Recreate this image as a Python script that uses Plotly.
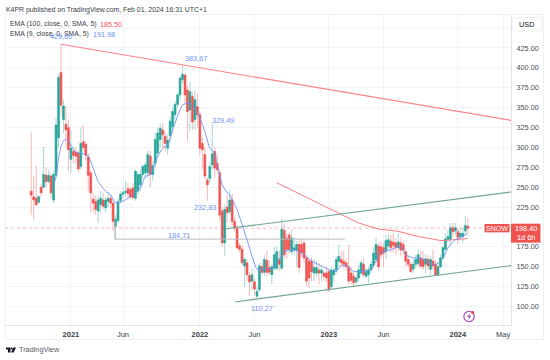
import pandas as pd
import plotly.graph_objects as go

W, H = 550, 360
L, R, T, B = 5.0, 511.5, 15.0, 325.5

# weekly candles, one row per week starting 2020-09-14
first_week = "2020-09-14"
opens = [245,238,236,231,250,250,265,257,264,234,265,312,394,335,329,325,285,295,294,293,276,307,304,288,268,235,232,220,228,234,224,232,236,230,201,208,233,241,243,248,247,249,236,245,253,266,268,268,289,266,280,293,310,322,314,299,315,326,341,354,366,385,391,372,347,364,335,351,341,305,291,259,261,278,295,280,268,220,180,225,219,234,207,198,176,172,151,155,139,132,131,113,121,150,143,158,149,140,148,148,159,148,196,186,190,169,171,171,178,178,180,161,157,157,142,142,146,142,142,142,144,125,140,146,157,159,157,155,150,142,138,131,136,142,153,138,140,146,152,159,176,175,174,169,176,182,181,180,174,180,178,169,159,153,147,153,154,161,159,153,159,147,157,153,140,150,161,172,184,184,199,195,194,188,188,195,201]
closes = [240,234,228,238,243,266,257,265,243,266,328,388,353,352,322,297,299,290,289,273,305,300,290,265,243,230,222,234,236,226,234,236,230,207,210,232,241,243,245,242,238,237,270,266,266,276,278,291,266,277,310,318,324,316,305,309,333,345,354,366,387,392,366,345,370,332,360,341,299,297,264,253,276,292,274,272,215,180,222,218,234,207,199,174,172,155,159,140,131,140,122,119,151,143,159,143,143,150,165,169,153,197,165,172,172,186,174,178,149,168,161,132,136,144,149,149,142,146,138,136,121,146,146,159,163,155,153,150,132,133,130,136,146,155,140,144,146,153,167,178,150,165,167,183,184,174,177,174,181,171,171,157,153,144,153,159,165,151,150,160,151,159,151,140,150,161,174,185,188,199,194,199,187,192,192,202,198.4]
highs = [319,265,277,240,254,301,275,272,268,270,337,392,429.6,360,352,335,322,298,300,296,325,328,308,293,272,243,240,240,245,243,238,243,240,235,215,235,245,250,258,255,250,255,272,270,272,278,282,296,296,283,318,325,330,330,320,316,338,350,358,369,390,403,393,378,382,370,372,368,345,312,300,262,282,330,300,292,272,225,228,240,245,242,212,202,180,178,162,160,143,148,135,125,155,155,165,170,158,153,175,175,170,209.5,205,192,194,197,187,182,183,186,183,165,162,162,160,158,155,150,146,150,146,150,148,163,178,170,170,160,178,150,143,140,152,158,160,148,150,158,175,186,180,182,180,190,190,190,192,186,192,186,183,172,163,156,160,165,172,170,170,166,165,163,172,158,155,165,176,192,196,205,205,205,198,200,198,214,212]
lows = [215,209,226,229,238,248,250,255,236,230,262,300,340,318,300,270,268,280,280,268,272,295,284,245,218,218,215,205,218,222,218,225,224,195,185,205,230,236,238,236,235,234,233,240,245,260,262,262,250,258,275,288,300,300,295,290,305,318,335,350,360,380,355,308,320,322,322,325,290,272,260,233,255,272,262,268,208,175,164,205,216,202,195,172,168,152,125,132,113,120,115,110.3,119,140,138,138,140,128,145,145,145,145,160,160,167,165,165,150,142,162,155,126,123,132,132,138,128,132,132,130,118,123,130,142,150,150,148,145,127,128,125,128,132,138,136,135,130,142,148,155,145,160,150,160,172,168,168,165,170,163,165,150,148,142,142,148,150,147,146,142,146,140,146,139,139,148,158,170,180,178,188,190,178,183,180,190,192]

# EMA 9 read at selected weeks (week number counted from first_week)
ema9_week = [9,10,11,12,13,14,16,18,21,23,25,27,30,32,34,36,39,44,46,48,51,53,55,57,59,61,64,66,68,70,72,74,75,77,79,80,83,87,91,94,98,102,106,110,113,116,120,123,125,127,130,133,137,139,141,145,149,151,154,157,161,163,166,168,171,174,176]
ema9_val = [251,263.5,286.5,301,308,310.8,303,293.7,292,289,274,257,245,240.5,230,231,236,249,263.6,265.7,288.7,299,303,322,339,353.5,355.6,349,337,320,299,293,278,253,243,240.5,221.7,184,147,147,149.7,169,171.5,165,157,152.7,146.4,144,151.4,151.4,144,144,147,156.8,168,171.5,175.6,165,161,161,154.7,152.6,161,173.5,184,188,192]
# EMA 100 read at selected weeks
ema100_week = [99,104,112,116,124,132,140,148,156,165,171,176]
ema100_val = [255.6,248,236,229,217.5,205,197.4,194.5,188,183,184,185.5]
ema100_last, ema9_last = "185.50", "191.98"

# drawing-tool lines: (date, price) pairs
line_dn_dates = ["2020-12-07", "2024-05-30"]
line_dn_prices = [429.6, 334]
line_up_dates = ["2022-03-14", "2024-05-30"]
line_up_prices = [197.5, 243.9]
line_lo_dates = ["2022-04-12", "2024-05-30"]
line_lo_prices = [105.8, 151.4]
hline_dates = ["2021-05-08", "2021-05-08", "2023-02-16"]
hline_prices = [207, 184.71, 184.71]
last_price = 198.40
price_dates = ["2020-07-02", "2024-05-30"]

y_ticks = [100,125,150,175,200,225,250,275,300,325,350,375,400,425,450]
x_tick_dates = ["2021-01-04","2021-05-31","2022-01-03","2022-06-06","2023-01-02","2023-06-05","2024-01-01","2024-05-08"]
x_tick_text = ["<b>2021</b>","Jun","<b>2022</b>","Jun","<b>2023</b>","Jun","<b>2024</b>","May"]

price_labels = [("429,60","2020-12-07",440),("383,67","2021-12-22",412),("329,49","2022-03-10",334),("232,83","2022-01-17",224),("184,71","2021-11-04",189),("110,27","2022-06-26",98)]

TEAL, RED = "#26a69a", "#ef5350"
FONT = "Liberation Sans"
FS = 7.3
dates = pd.date_range(first_week, periods=len(opens), freq="7D")
ws = lambda idx: [dates[i] for i in idx]
hi = [max(a, b, c) for a, b, c in zip(highs, opens, closes)]
lo = [min(a, b, c) for a, b, c in zip(lows, opens, closes)]
top = [max(a, b) for a, b in zip(opens, closes)]
bot = [min(a, b) for a, b in zip(opens, closes)]

fig = go.Figure()
fig.add_trace(go.Scatter(x=price_dates, y=[last_price]*2, mode="lines", line=dict(color="rgba(239,83,80,.4)", width=1, dash="dot")))
fig.add_trace(go.Scatter(x=hline_dates, y=hline_prices, mode="lines", line=dict(color="#b7b9be", width=1)))
fig.add_trace(go.Candlestick(x=dates, open=opens, high=hi, low=lo, close=closes, whiskerwidth=0,
    increasing=dict(line=dict(color="rgba(38,166,154,.42)", width=1), fillcolor="rgba(0,0,0,0)"),
    decreasing=dict(line=dict(color="rgba(239,83,80,.42)", width=1), fillcolor="rgba(0,0,0,0)")))
fig.add_trace(go.Candlestick(x=dates, open=opens, high=top, low=bot, close=closes, whiskerwidth=0,
    increasing=dict(line=dict(color=TEAL, width=0.3), fillcolor=TEAL),
    decreasing=dict(line=dict(color=RED, width=0.3), fillcolor=RED)))
fig.add_trace(go.Scatter(x=ws(ema100_week), y=ema100_val, mode="lines", line=dict(color="#f77c80", width=1)))
fig.add_trace(go.Scatter(x=ws(ema9_week), y=ema9_val, mode="lines", line=dict(color="#6a8ff5", width=0.9, shape="spline", smoothing=0.4)))
fig.add_trace(go.Scatter(x=line_dn_dates, y=line_dn_prices, mode="lines", line=dict(color="#f7838b", width=1.1)))
fig.add_trace(go.Scatter(x=line_up_dates, y=line_up_prices, mode="lines", line=dict(color="#6fa596", width=1.1)))
fig.add_trace(go.Scatter(x=line_lo_dates, y=line_lo_prices, mode="lines", line=dict(color="#6fa596", width=1.1)))

px = lambda x: x / (R - L) - L / (R - L)
py = lambda y: (B - y) / (B - T)
shapes, ann = [], []
def rect(x0, y0, x1, y1, fill=None, line=None, w=1):
    shapes.append(dict(type="rect", xref="paper", yref="paper", x0=px(x0), x1=px(x1), y0=py(y1), y1=py(y0),
                       fillcolor=fill or "rgba(0,0,0,0)", line=dict(color=line or "rgba(0,0,0,0)", width=w), layer="above"))
def path(d, fill, line=None, w=0):
    out, tok = [], d.split()
    i = 0
    while i < len(tok):
        if tok[i] in "MLZ":
            out.append(tok[i]); i += 1
            if out[-1] != "Z":
                out.append(f"{px(float(tok[i]))},{py(float(tok[i+1]))}"); i += 2
    shapes.append(dict(type="path", xref="paper", yref="paper", path=" ".join(out), fillcolor=fill, line=dict(color=line or "rgba(0,0,0,0)", width=w), layer="above"))
def circ(cx, cy, r, fill=None, line=None, w=1):
    shapes.append(dict(type="circle", xref="paper", yref="paper", x0=px(cx-r), x1=px(cx+r), y0=py(cy+r), y1=py(cy-r),
                       fillcolor=fill or "rgba(0,0,0,0)", line=dict(color=line or "rgba(0,0,0,0)", width=w), layer="above"))
def text(x, y, s, size=FS, color="#3a3d45", anchor="left"):
    ann.append(dict(xref="paper", yref="paper", x=px(x), y=py(y), text=s, showarrow=False, xanchor=anchor, yanchor="middle",
                    font=dict(family=FONT, size=size, color=color), borderpad=0, borderwidth=0))

rect(5, 14.5, 544, 340, line="#eff0f3")
rect(513.5, 17.5, 542, 31, fill="#ffffff", line="#eef0f3")
rect(511.5, 224, 541, 243, fill=RED)
rect(485, 224.3, 510, 232.7, fill=RED)
path("M 6 348 L 10.5 348 L 10.5 353 L 8 353 L 8 350 L 6 350 Z", "#131722")
circ(11.7, 349, 1, fill="#131722", w=0)
path("M 16 348 L 13.6 353 L 11 353 L 13.4 348 Z", "#131722")
circ(469.5, 317, 5.2, line="#a34bc4", w=1.2)
path("M 470.5 313.5 L 467.5 317.5 L 469.5 317.5 L 468.8 320.5 L 471.7 316.3 L 469.8 316.3 Z", "#a34bc4")
circ(473.2, 313, 1.5, fill="#f23645", w=0)

text(6, 10, "K4PR published on TradingView.com, Feb 01, 2024 16:31 UTC+1", 6.9, "#3a3d45")
text(10, 24.5, "EMA (100, close, 0, SMA, 5)", 6.9)
text(100, 24.5, ema100_last, 7.2, "#f7525f")
text(10, 34.2, "EMA (9, close, 0, SMA, 5)", 6.9)
text(93.5, 34.2, ema9_last, 7.2, "#6a8ff5")
text(527.5, 24.5, "USD", FS, "#131722", "center")
text(19, 350.3, "TradingView", FS, "#555a63")
text(497.5, 228.6, "SNOW", 7, "#ffffff", "center")
text(526.2, 228.6, "198.40", FS, "#ffffff", "center")
text(526.2, 237.8, "1d 6h", FS, "#ffffff", "center")
for s, d, p in price_labels:
    ann.append(dict(x=d, y=p, xref="x", yref="y", text=s, showarrow=False, font=dict(family=FONT, size=FS, color="#6f93f5")))

fig.update_layout(width=W, height=H, margin=dict(l=L, r=W-R, t=T, b=H-B), paper_bgcolor="#ffffff", plot_bgcolor="#ffffff",
    showlegend=False, hovermode=False, shapes=shapes, annotations=ann, font=dict(family=FONT, size=FS, color="#4a4e57"),
    boxmode="overlay", boxgap=0.25, boxgroupgap=0.0,
    xaxis=dict(type="date", range=["2020-07-02", "2024-05-30"], rangeslider=dict(visible=False), tickmode="array", tickvals=x_tick_dates, ticktext=x_tick_text,
               showgrid=True, gridcolor="#f3f4f6", gridwidth=1, zeroline=False, showline=True, linecolor="#e3e5ea", linewidth=1, ticks="", ticklabelstandoff=2, tickfont=dict(size=7.5, color="#3a3d45")),
    yaxis=dict(side="right", range=[76.8, 466.4], tickmode="array", tickvals=y_ticks, ticktext=[f"{v:.2f}" if v < 450 else "" for v in y_ticks],
               showgrid=True, gridcolor="#f3f4f6", gridwidth=1, zeroline=False, showline=True, linecolor="#e3e5ea", linewidth=1, ticks="", ticklabelstandoff=3, tickfont=dict(size=FS, color="#4a4e57")))
fig.write_html("out.html", post_script="document.body.style.margin='0';", config=dict(displayModeBar=False))
